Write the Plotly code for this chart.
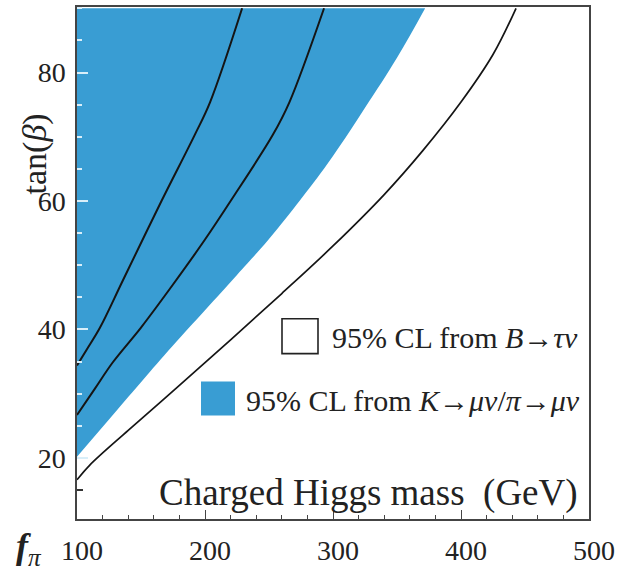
import plotly.graph_objects as go

# ---- data ----
mass_kmu = [100, 125, 150, 175, 200, 225, 250, 275, 300, 325, 350, 372]
tanb_kmu = [20.2, 26.0, 31.8, 37.5, 43.0, 48.5, 54.1, 60.3, 67.0, 74.5, 82.3, 90.0]

mass_c1 = [100, 108, 118, 136, 166, 192, 204, 229]
tanb_c1 = [34.4, 37.0, 40.3, 47.7, 60.0, 70.3, 75.4, 90.0]

mass_c2 = [100, 114, 128, 150, 175, 200, 220, 253, 266, 293]
tanb_c2 = [26.7, 30.8, 34.9, 40.3, 47.0, 54.0, 60.0, 70.3, 75.4, 90.0]

mass_btau = [100, 110, 140, 180, 220, 260, 300, 340, 370, 400, 425, 443]
tanb_btau = [16.6, 18.9, 24.3, 31.3, 38.4, 45.6, 53.0, 61.0, 67.8, 75.4, 82.8, 90.0]

x_ticks = [100, 200, 300, 400, 500]
y_ticks = [20, 40, 60, 80]
y_ticks_on_white = [15]

BLUE = "#399dd3"
FONT = "Liberation Serif"
Y_RANGE = [10.5, 90.2]

W, H = 633, 571
L, R, T, B = 77, 44, 5, 52
PW, PH = W - L - R, H - T - B


def px(x):
    return (x - L) / PW


def py(y):
    return 1 - (y - T) / PH


fig = go.Figure()
fig.add_trace(go.Scatter(x=mass_kmu, y=tanb_kmu, mode="lines", fill="tozerox",
                         fillcolor=BLUE, line=dict(color=BLUE, width=0, shape="spline", smoothing=1.2),
                         hoverinfo="skip", showlegend=False))
for xs, ys, w, ax in [(mass_c1, tanb_c1, 2, "y"), (mass_c2, tanb_c2, 2, "y"),
                      (mass_btau, tanb_btau, 1.7, "y2")]:
    fig.add_trace(go.Scatter(x=xs, y=ys, mode="lines", yaxis=ax,
                             line=dict(color="#151515", width=w, shape="spline", smoothing=1.0),
                             hoverinfo="skip", showlegend=False))

fig.update_layout(
    width=W, height=H, margin=dict(l=L, r=R, t=T, b=B),
    paper_bgcolor="white", plot_bgcolor="white",
    font=dict(family=FONT, size=28, color="#222"),
    showlegend=False,
    yaxis2=dict(overlaying="y", anchor="x", side="left", range=Y_RANGE, tickvals=y_ticks_on_white,
                showticklabels=False, ticks="inside", ticklen=6, tickwidth=1.5, tickcolor="#333",
                showgrid=False, zeroline=False, showline=False),
)
fig.update_xaxes(range=[100, 500], tickvals=x_ticks, ticktext=[str(v) for v in x_ticks],
                 showgrid=False, zeroline=False, showline=True, linecolor="#444", linewidth=1.5,
                 mirror=True, ticks="inside", ticklen=9, tickwidth=1.2, tickcolor="#444",
                 minor=dict(ticks="inside", ticklen=4, dtick=20, tickcolor="#444", tickwidth=1.2),
                 tickfont=dict(family=FONT, size=28, color="#222"),
                 ticklabelstandoff=6, ticklabelshift=5)
fig.update_layout(yaxis=dict(range=Y_RANGE, tickvals=y_ticks, ticktext=[str(v) for v in y_ticks],
                             showgrid=False, zeroline=False, showline=True, linecolor="#444", linewidth=1.5,
                             mirror=True, ticks="inside", ticklen=11, tickwidth=1.5, tickcolor="#d8eef9",
                             minor=dict(ticks="inside", ticklen=5, dtick=5, tickcolor="#d8eef9", tickwidth=1.5),
                             tickfont=dict(family=FONT, size=28, color="#222"),
                             ticklabelstandoff=4))

# legend drawn by hand
fig.add_shape(type="rect", xref="paper", yref="paper", x0=px(282), x1=px(318), y0=py(353), y1=py(318),
              line=dict(color="#222", width=1.6), fillcolor="white")
fig.add_shape(type="rect", xref="paper", yref="paper", x0=px(201), x1=px(235), y0=py(415), y1=py(381),
              line=dict(color=BLUE, width=0), fillcolor=BLUE)

ann = [
    dict(text="95% CL from <i>B</i>→<i>τν</i>", x=px(330), y=py(337), xanchor="left", size=30),
    dict(text="95% CL from <i>K</i>→<i>μν</i>/<i>π</i>→<i>μν</i>", x=px(244), y=py(400), xanchor="left", size=30),
    dict(text="Charged Higgs mass \u00a0(GeV)", x=px(368), y=py(493), xanchor="center", size=37),
]
for a in ann:
    fig.add_annotation(text=a["text"], xref="paper", yref="paper", x=a["x"], y=a["y"],
                       xanchor=a["xanchor"], yanchor="middle", showarrow=False,
                       font=dict(family=FONT, size=a["size"], color="#222"))

fig.add_annotation(text="tan(<i>β</i>)", xref="paper", yref="paper", x=px(35), y=py(153),
                   xanchor="center", yanchor="middle", textangle=-90, showarrow=False,
                   font=dict(family=FONT, size=34, color="#222"))
fig.add_annotation(text="<b><i>f</i></b><sub><i>π</i></sub>", xref="paper", yref="paper",
                   x=px(14), y=py(549), xanchor="left", yanchor="middle", showarrow=False,
                   font=dict(family=FONT, size=36, color="#222"))

fig.write_html("out.html")
